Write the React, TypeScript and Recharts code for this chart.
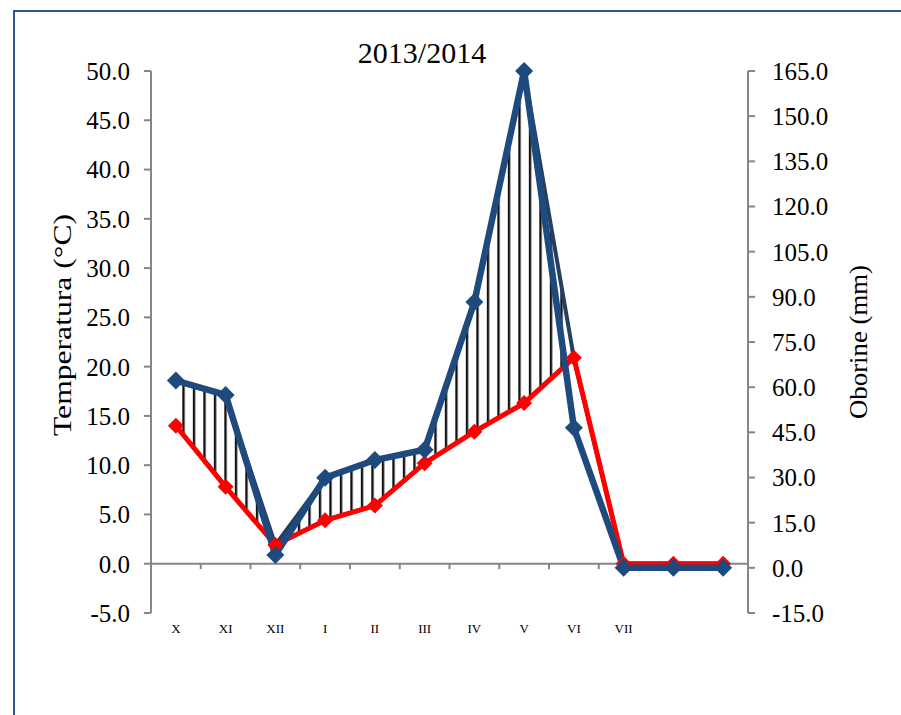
import React from 'react';
import { ComposedChart, Line, Area, XAxis, YAxis, ReferenceLine } from 'recharts';

// ---- data ----
const months = ['X', 'XI', 'XII', 'I', 'II', 'III', 'IV', 'V', 'VI', 'VII', '', ''];
const temperature = [14.0, 7.8, 1.9, 4.4, 5.9, 10.2, 13.4, 16.3, 20.9, 0.0, 0.0, 0.0];
const precipitation = [62.2, 57.4, 4.3, 29.9, 35.8, 39.2, 88.3, 165.0, 46.5, 0.0, 0.0, 0.0];
const tempTicks = [-5, 0, 5, 10, 15, 20, 25, 30, 35, 40, 45, 50];
const precipTicks = [-15, 0, 15, 30, 45, 60, 75, 90, 105, 120, 135, 150, 165];
const boundaryTicks = [1, 2, 3, 4, 5, 6, 7, 8, 9, 10, 11];

const TEMP_DOMAIN: [number, number] = [-5, 50];
const PRECIP_DOMAIN: [number, number] = [-15, 165];

const FONT = '"Liberation Serif", "Times New Roman", serif';
const RED = '#FF0000';
const BLUE = '#1F4A7E';
const NAVY = '#243F60';
const GRAY = '#868686';

// precipitation expressed in temperature-axis units (both axes share the same pixel span)
const toTempUnits = (p: number) =>
  TEMP_DOMAIN[0] +
  ((p - PRECIP_DOMAIN[0]) / (PRECIP_DOMAIN[1] - PRECIP_DOMAIN[0])) * (TEMP_DOMAIN[1] - TEMP_DOMAIN[0]);

const data = months.map((m, i) => {
  const pT = toTempUnits(precipitation[i]);
  return {
    x: i + 0.5,
    month: m,
    temp: temperature[i],
    precip: precipitation[i],
    hatch: [temperature[i], Math.max(temperature[i], pT)],
  };
});

const makeDiamond = (color: string, r: number) => (props: any) => {
  const { cx, cy, index } = props;
  if (cx == null || cy == null) return <g key={`d-${index}`} />;
  return (
    <path
      key={`d-${index}`}
      d={`M${cx},${cy - r}L${cx + r},${cy}L${cx},${cy + r}L${cx - r},${cy}Z`}
      fill={color}
    />
  );
};

export default function App() {
  return (
    <div style={{ position: 'relative', width: 901, height: 715, overflow: 'hidden', background: '#fff' }}>
      <style>{`body{margin:0;overflow:hidden;}`}</style>
      <div
        style={{
          position: 'absolute',
          left: 13,
          top: 10,
          width: 1000,
          height: 900,
          border: '2px solid #2F5590',
          boxSizing: 'border-box',
        }}
      />
      <div style={{ position: 'absolute', left: 0, top: 0 }}>
        <ComposedChart
          width={901}
          height={715}
          data={data}
          margin={{ top: 71, right: 53, bottom: 72, left: 71 }}
        >
          <defs>
            <pattern id="hatch" patternUnits="userSpaceOnUse" width="10.5" height="10">
              <rect x="0" y="0" width="10.5" height="10" fill="#ffffff" />
              <line x1="5" y1="0" x2="5" y2="10" stroke="#111111" strokeWidth="2.4" />
            </pattern>
          </defs>
          <XAxis
            dataKey="x"
            type="number"
            domain={[0, 12]}
            ticks={[0.5, 1.5, 2.5, 3.5, 4.5, 5.5, 6.5, 7.5, 8.5, 9.5, 10.5, 11.5]}
            tickFormatter={(v: number) => months[Math.floor(v)]}
            axisLine={false}
            tickLine={false}
            height={30}
            tickMargin={5}
            interval={0}
            tick={{ fontFamily: FONT, fontSize: 13, fill: '#000' }}
          />
          <YAxis
            yAxisId="left"
            domain={TEMP_DOMAIN}
            ticks={tempTicks}
            interval={0}
            width={80}
            tickFormatter={(v: number) => v.toFixed(1)}
            axisLine={{ stroke: GRAY, strokeWidth: 2 }}
            tickLine={{ stroke: GRAY, strokeWidth: 2 }}
            tickSize={7}
            tickMargin={14}
            tick={{ fontFamily: FONT, fontSize: 25, fill: '#000' }}
          />
          <YAxis
            yAxisId="right"
            orientation="right"
            domain={PRECIP_DOMAIN}
            ticks={precipTicks}
            interval={0}
            width={100}
            tickFormatter={(v: number) => v.toFixed(1)}
            axisLine={{ stroke: GRAY, strokeWidth: 2 }}
            tickLine={{ stroke: GRAY, strokeWidth: 2 }}
            tickSize={7}
            tickMargin={17}
            tick={{ fontFamily: FONT, fontSize: 25, fill: '#000', textAnchor: 'start' }}
          />
          <ReferenceLine yAxisId="left" y={0} stroke={GRAY} strokeWidth={2} />
          {boundaryTicks.map((k) => (
            <ReferenceLine
              key={`bt-${k}`}
              yAxisId="left"
              segment={[
                { x: k, y: 0 },
                { x: k, y: -0.55 },
              ]}
              stroke={GRAY}
              strokeWidth={2}
            />
          ))}
          <Area
            yAxisId="left"
            dataKey="hatch"
            type="linear"
            stroke={NAVY}
            strokeWidth={4}
            fill="url(#hatch)"
            fillOpacity={1}
            isAnimationActive={false}
            dot={false}
            activeDot={false}
          />
          <Line
            yAxisId="left"
            dataKey="temp"
            type="linear"
            stroke={RED}
            strokeWidth={5}
            dot={makeDiamond(RED, 8)}
            activeDot={false}
            isAnimationActive={false}
          />
          <Line
            yAxisId="right"
            dataKey="precip"
            type="linear"
            stroke={BLUE}
            strokeWidth={6.5}
            dot={makeDiamond(BLUE, 9)}
            activeDot={false}
            isAnimationActive={false}
          />
        </ComposedChart>
      </div>
      <svg
        width={901}
        height={715}
        style={{ position: 'absolute', left: 0, top: 0, pointerEvents: 'none' }}
      >
        <text x={422} y={63} textAnchor="middle" fontFamily={FONT} fontSize={30} fill="#000">
          2013/2014
        </text>
        <text
          x={62}
          y={325}
          textAnchor="middle"
          dominantBaseline="central"
          transform="rotate(-90, 62, 325)"
          fontFamily={FONT}
          fontSize={26}
          textLength={222}
          lengthAdjust="spacingAndGlyphs"
          fill="#000"
        >
          Temperatura (°C)
        </text>
        <text
          x={858}
          y={342}
          textAnchor="middle"
          dominantBaseline="central"
          transform="rotate(-90, 858, 342)"
          fontFamily={FONT}
          fontSize={26}
          textLength={154}
          lengthAdjust="spacingAndGlyphs"
          fill="#000"
        >
          Oborine (mm)
        </text>
      </svg>
    </div>
  );
}
